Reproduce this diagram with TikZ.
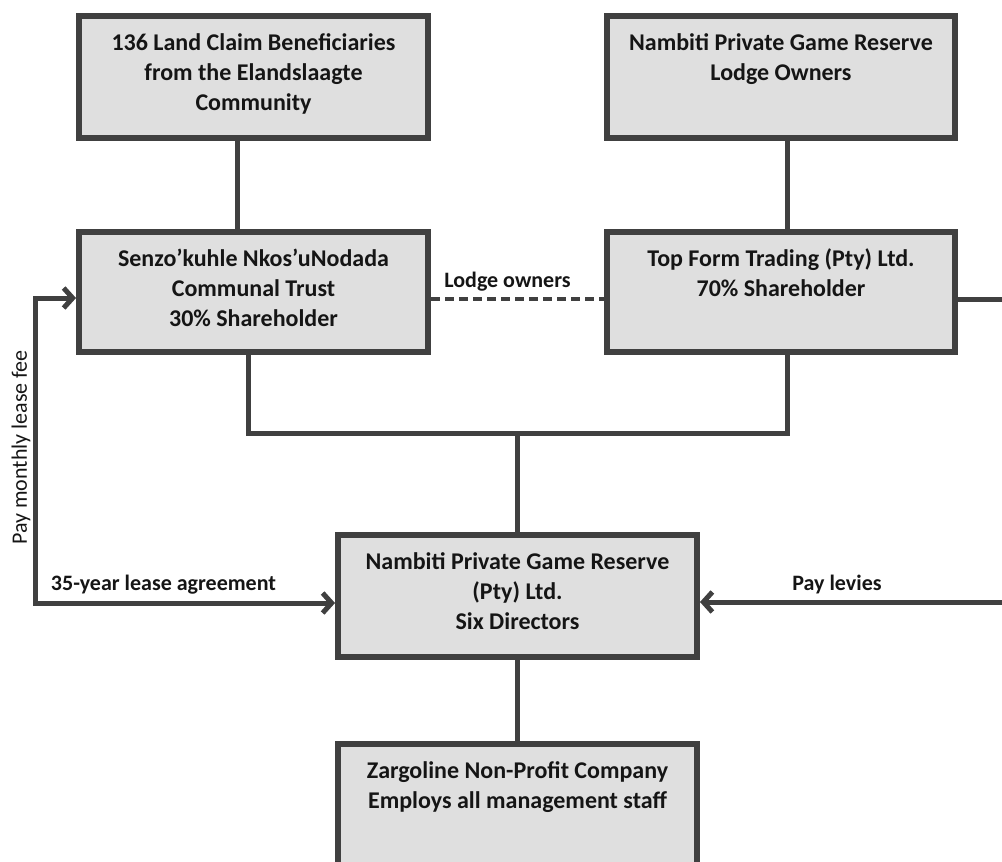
\documentclass[tikz,border=0pt]{standalone}
\usepackage{fontspec}
\setmainfont{Carlito}
\usetikzlibrary{arrows.meta}
\definecolor{edge}{HTML}{404040}
\definecolor{boxfill}{HTML}{DFDFDF}
\definecolor{ink}{HTML}{151515}
\begin{document}
\begin{tikzpicture}[x=1pt,y=-1pt,
  box/.style={draw=edge, fill=boxfill, line width=6pt, rectangle, inner sep=0pt},
  boxtext/.style={anchor=north, inner sep=0pt, outer sep=0pt, align=center, text=ink, font=\bfseries\fontsize{24}{30}\selectfont},
  conn/.style={draw=edge, line width=5pt},
  lbl/.style={text=ink, font=\bfseries\fontsize{22}{26}\selectfont, inner sep=0pt},
  barb/.tip={Straight Barb[length=9pt,width=20pt]}
]
\useasboundingbox (0,0) rectangle (1002,862);

\node[box, minimum width=349pt, minimum height=122pt] (A) at (253.5,77) {};
\node[box, minimum width=348pt, minimum height=122pt] (B) at (781,77) {};
\node[box, minimum width=349pt, minimum height=120pt] (C) at (253.5,292) {};
\node[box, minimum width=348pt, minimum height=120pt] (D) at (781,292) {};
\node[box, minimum width=359pt, minimum height=122pt] (E) at (517.5,596) {};
\node[box, minimum width=359pt, minimum height=122pt] (F) at (517.5,805) {};

\node[boxtext] (At) at ([yshift=-17pt]A.north) {\rule{0pt}{20pt}136 Land Claim Beneficiaries\\from the Elandslaagte\\Community};
\node[boxtext] (Bt) at ([yshift=-17pt]B.north) {\rule{0pt}{20pt}Nambiti Private Game Reserve\\Lodge Owners};
\node[boxtext] (Ct) at ([yshift=-17pt]C.north) {\rule{0pt}{20pt}Senzo’kuhle Nkos’uNodada\\Communal Trust\\30\% Shareholder};
\node[boxtext] (Dt) at ([yshift=-17pt]D.north) {\rule{0pt}{20pt}Top Form Trading (Pty) Ltd.\\70\% Shareholder};
\node[boxtext] (Et) at ([yshift=-17pt]E.north) {\rule{0pt}{20pt}Nambiti Private Game Reserve\\(Pty) Ltd.\\Six Directors};
\node[boxtext] (Ft) at ([yshift=-17pt]F.north) {\rule{0pt}{20pt}Zargoline Non-Profit Company\\Employs all management staff};

% vertical links
\draw[conn] ([xshift=-16.5pt]A.south) -- ([xshift=-16.5pt]C.north);
\draw[conn] ([xshift=6pt]B.south) -- ([xshift=6pt]D.north);
\coordinate (J) at (517,433);
\draw[conn] ([xshift=-5.5pt]C.south) |- (J) -| ([xshift=6pt]D.south);
\draw[conn] (J) -- (J |- E.north);
\draw[conn] (E.south) -- (F.north);

% dashed link
\draw[conn, line width=4pt, dash pattern=on 9pt off 5pt] ([yshift=-7pt]C.east) -- ([yshift=-7pt]D.west);

% left lease loop
\coordinate (LT) at (35,298);
\coordinate (LB) at (35,603);
\draw[conn, arrows={barb-barb}] ([yshift=-6pt]C.west) -- (LT) -- (LB) -- (LB -| E.west);

% right levies loop
\coordinate (RT) at (1014,299);
\coordinate (RB) at (1014,602);
\draw[conn, arrows={-barb}] ([yshift=-7pt]D.east) -- (RT) -- (RB) -- (RB -| E.east);

% labels
\node[lbl, anchor=base] (lodge) at (507.5,287) {Lodge owners};
\node[lbl, anchor=base] (lease) at (163.5,590) {35-year lease agreement};
\node[lbl, anchor=base] (levies) at (837,590) {Pay levies};
\node[lbl, font=\fontsize{22}{26}\selectfont, anchor=base, rotate=90] (monthly) at (27,447.5) {Pay monthly lease fee};
\end{tikzpicture}
\end{document}
